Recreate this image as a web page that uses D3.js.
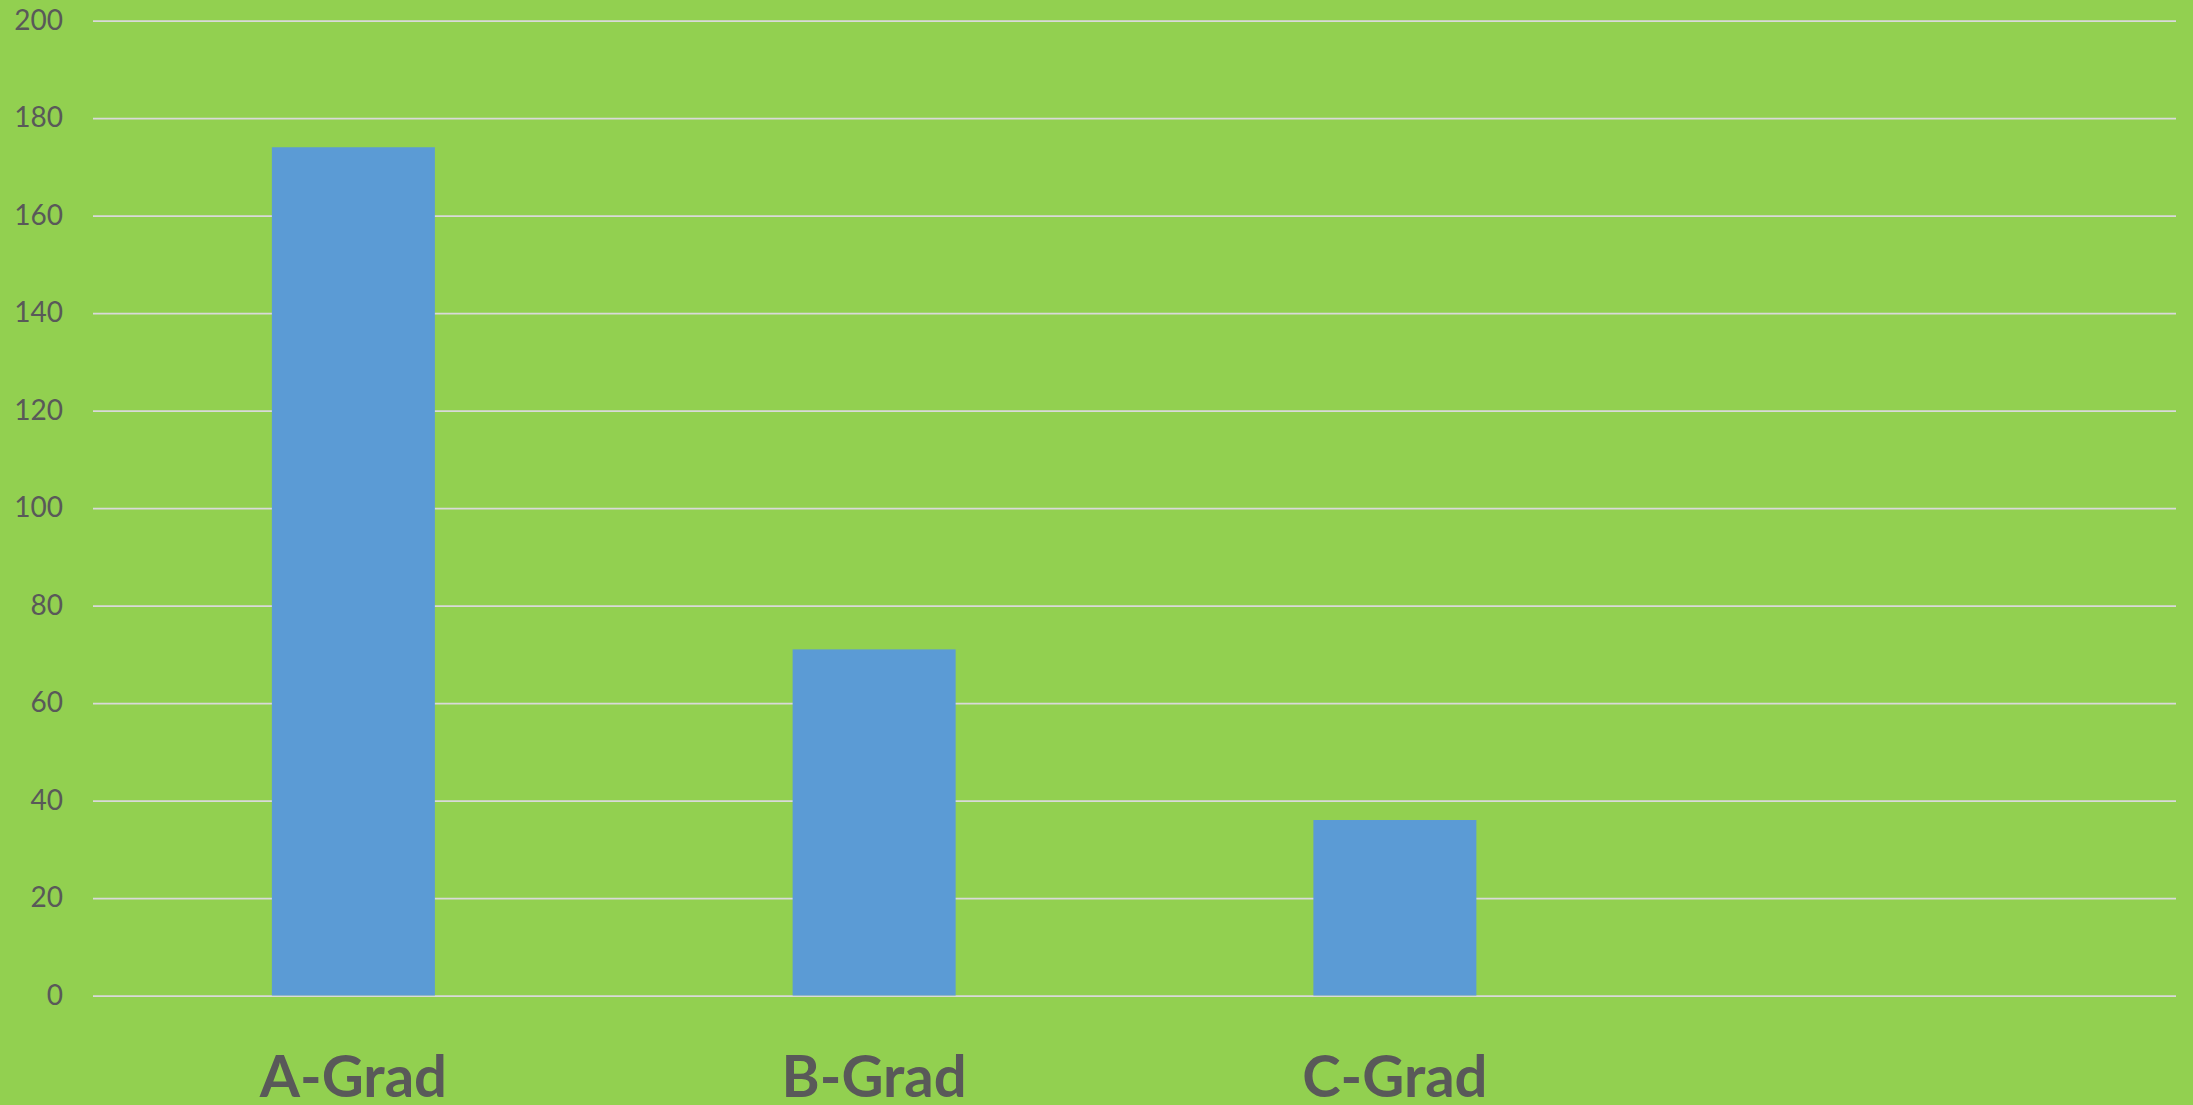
<!DOCTYPE html>
<html>
<head>
<meta charset="utf-8">
<script src="https://cdn.jsdelivr.net/npm/d3@7"></script>
<style>
  html, body { margin: 0; padding: 0; background: #92D050; overflow: hidden; }
  svg { display: block; }
</style>
</head>
<body>
<svg id="chart" width="2193" height="1105"></svg>
<script>
const categories = ["A-Grad", "B-Grad", "C-Grad", ""];
const values = [174, 71, 36, null];
const yTicks = [0, 20, 40, 60, 80, 100, 120, 140, 160, 180, 200];

const W = 2193, H = 1105;
const margin = { left: 93, right: 17, top: 20.5, bottom: 109.5 };
const svg = d3.select("#chart");
svg.append("rect").attr("width", W).attr("height", H).attr("fill", "#92D050");

const x = d3.scaleBand()
  .domain(categories)
  .range([margin.left, W - margin.right])
  .paddingInner(0.687)
  .paddingOuter(0.3435);

const y = d3.scaleLinear()
  .domain([0, 200])
  .range([H - margin.bottom, margin.top]);

// gridlines
const grid = svg.append("g")
  .attr("transform", `translate(${margin.left},0)`)
  .call(d3.axisLeft(y).tickValues(yTicks).tickSize(-(W - margin.left - margin.right)).tickFormat(""));
grid.select(".domain").remove();
grid.selectAll(".tick line").attr("stroke", "#D9D9D9").attr("stroke-width", 1.75);

// bars
svg.append("g").selectAll("rect")
  .data(categories.map((c, i) => ({ c, v: values[i] })).filter(d => d.v != null))
  .join("rect")
  .attr("x", d => x(d.c))
  .attr("width", x.bandwidth())
  .attr("y", d => y(d.v))
  .attr("height", d => y(0) - y(d.v))
  .attr("fill", "#5B9BD5");

// y tick labels
const yAxis = svg.append("g")
  .attr("transform", `translate(63,0)`)
  .call(d3.axisLeft(y).tickValues(yTicks).tickSize(0).tickPadding(0));
yAxis.select(".domain").remove();
yAxis.selectAll("text")
  .attr("fill", "#595959")
  .style("font-family", "Lato, 'Liberation Sans', sans-serif")
  .style("font-size", "28px");

// x labels
const xAxis = svg.append("g")
  .attr("transform", `translate(0,${H - margin.bottom})`)
  .call(d3.axisBottom(x).tickSize(0).tickPadding(0));
xAxis.select(".domain").remove();
xAxis.selectAll("text")
  .attr("dy", null)
  .attr("y", 101)
  .attr("fill", "#595959")
  .style("font-family", "Lato, 'Liberation Sans', sans-serif")
  .style("font-weight", "bold")
  .style("font-size", "58px");
</script>
</body>
</html>
